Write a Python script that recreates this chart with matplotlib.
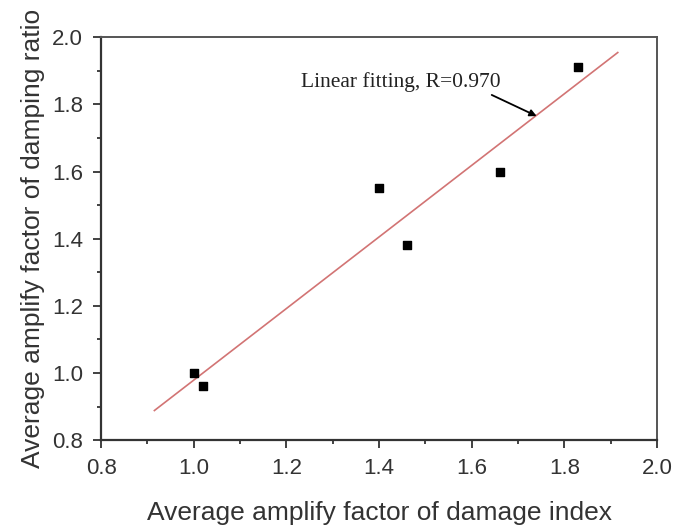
import numpy as np
import matplotlib.pyplot as plt

# ====== DATA ======
damage_index = [1.00, 1.02, 1.40, 1.46, 1.66, 1.83]
damping_ratio = [1.00, 0.96, 1.55, 1.38, 1.60, 1.91]
fit_x_range = [0.915, 1.915]
fit_label = "Linear fitting, R=0.970"

x_ticks = [0.8, 1.0, 1.2, 1.4, 1.6, 1.8, 2.0]
y_ticks = [0.8, 1.0, 1.2, 1.4, 1.6, 1.8, 2.0]

# linear fit
slope, intercept = np.polyfit(damage_index, damping_ratio, 1)
fit_x = np.array(fit_x_range)
fit_y = slope * fit_x + intercept

plt.rcParams['font.family'] = ['Liberation Sans', 'DejaVu Sans']

fig = plt.figure(figsize=(6.74, 5.31), dpi=100)
ax = fig.add_axes([0.150, 0.171, 0.825, 0.759])

ax.plot(fit_x, fit_y, color="#d27474", linewidth=1.2, zorder=2)
ax.scatter(damage_index, damping_ratio, marker='s', s=40, color="black", zorder=3)

# label + arrow pointing to the fit line
ax.text(1.232, 1.866, fit_label, fontsize=15.5, family=['Liberation Serif'],
        color="#222222", va="center", ha="left")
ax.annotate("", xy=(1.74, 1.765), xytext=(1.643, 1.828),
            arrowprops=dict(arrowstyle="-|>", color="black", lw=1.3,
                            shrinkA=0, shrinkB=0, mutation_scale=10))

ax.set_xlim(0.8, 2.0)
ax.set_ylim(0.8, 2.0)
ax.set_xticks(x_ticks)
ax.set_yticks(y_ticks)
ax.set_xticklabels([f"{t:.1f}" for t in x_ticks])
ax.set_yticklabels([f"{t:.1f}" for t in y_ticks])
ax.set_xticks(np.arange(0.9, 2.0, 0.2), minor=True)
ax.set_yticks(np.arange(0.9, 2.0, 0.2), minor=True)

ax.tick_params(which="major", direction="out", length=6, width=1.3,
               labelsize=16, colors="#333333", pad=7)
ax.tick_params(which="minor", direction="out", length=3, width=1.3, colors="#333333")
ax.tick_params(top=False, right=False)

for side in ["left", "bottom"]:
    ax.spines[side].set_linewidth(1.6)
    ax.spines[side].set_color("#333333")
for side in ["top", "right"]:
    ax.spines[side].set_linewidth(1.4)
    ax.spines[side].set_color("#555555")

ax.set_xlabel("Average amplify factor of damage index", fontsize=19, color="#333333", labelpad=16)
ax.set_ylabel("Average amplify factor of damping ratio", fontsize=19, color="#333333", labelpad=5)

plt.savefig("out.png", dpi=100)
plt.close()
